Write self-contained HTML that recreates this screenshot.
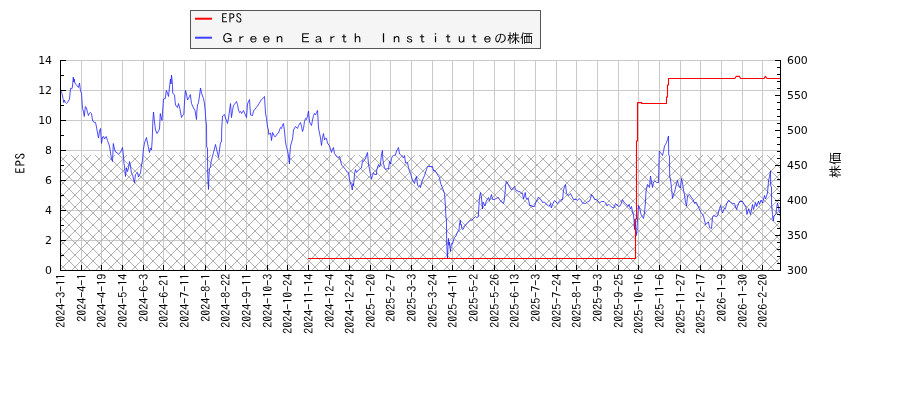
<!DOCTYPE html>
<html lang="ja"><head><meta charset="utf-8"><title>EPS chart</title>
<style>html,body{margin:0;padding:0;background:#fff}body{width:900px;height:400px;overflow:hidden}svg{display:block}.n{font-family:"DejaVu Sans","Liberation Sans",sans-serif;font-size:10.9px;fill:#000}.j{font-family:"IPAGothic","Liberation Sans","Noto Sans CJK JP",sans-serif;fill:#000}</style></head><body>
<svg width="900" height="400" viewBox="0 0 900 400">
<defs><pattern id="h" x="57" y="153" width="12" height="12" patternUnits="userSpaceOnUse"><path d="M-1,-1L13,13M13,-1L-1,13" stroke="#b0b0b0" stroke-width="1" fill="none" shape-rendering="crispEdges"/></pattern><clipPath id="c"><rect x="60" y="60" width="721" height="211"/></clipPath></defs>
<rect width="900" height="400" fill="#fff"/>
<path d="M81.5,60V270M101.5,60V270M122.5,60V270M143.5,60V270M163.5,60V270M184.5,60V270M205.5,60V270M225.5,60V270M246.5,60V270M267.5,60V270M287.5,60V270M308.5,60V270M329.5,60V270M349.5,60V270M370.5,60V270M390.5,60V270M411.5,60V270M432.5,60V270M452.5,60V270M473.5,60V270M494.5,60V270M514.5,60V270M535.5,60V270M556.5,60V270M576.5,60V270M597.5,60V270M618.5,60V270M638.5,60V270M659.5,60V270M680.5,60V270M700.5,60V270M721.5,60V270M742.5,60V270M762.5,60V270M61,60.5H780M61,90.5H780M61,120.5H780M61,150.5H780M61,180.5H780M61,210.5H780M61,240.5H780" stroke="#cacaca" stroke-width="1" fill="none" shape-rendering="crispEdges"/>
<rect x="61" y="155" width="719" height="115" fill="url(#h)"/>
<g clip-path="url(#c)">
<polyline points="61.2,91.2 62,93.5 63.2,99.5 63.8,102.5 64.2,100 65.5,102.5 66.5,103.5 67.5,102.5 69.5,99 70.5,88.5 72.2,88.3 72.8,83 73.3,77 73.8,82 74.3,79 74.8,83 76.5,85 78.5,87.5 79.5,83 80.5,91 81.5,93 82,101 82.5,108.5 83.3,111 84.3,116.5 85.3,106.5 86.5,108 87.5,112.5 88.5,115.5 89.5,113 90.5,112.5 91.5,113.5 92.5,120 93.5,122 95.5,122.5 96.5,127 97.5,133 98.5,138 99.5,131 100.5,128.5 101.5,143.5 102.5,137 103.5,136.5 104.5,139 105.5,137 106.3,136.5 107.5,140.5 109.5,146 110.5,153 111.5,158.5 112.5,161.5 113.3,143.5 114.5,149 115.5,152 117.5,153 118.5,154.5 119.5,153.5 120.5,152 121.5,150 122.5,147.5 123.5,156 124,163.5 124.7,168 125.5,176.5 126.5,168 127.5,171.5 128.5,168 129.5,161.5 130.5,166 131.5,173.5 132.5,174.5 133.5,179 134.5,182.5 135.5,174.5 136.5,173.5 137.5,172.5 138.5,177 139.5,175 140.5,173 141.5,165 142.5,160 143.3,150 144.5,143 145.5,140 146.5,137.5 147.5,143 148.5,148 149.5,152.5 150.5,148 151.5,150 152.2,140 152.8,122 153.5,112 154.5,122 155.5,130 157,133.5 158.5,131 159.5,129 160.3,113.5 161.3,118 162,120.5 162.7,110 163.5,99 165.3,98.5 166.3,90.5 167.5,93 168.5,96.5 169.5,87 170.5,79 171,84 171.5,75 172.5,84.5 172.7,93 174.5,95 175.5,105 177.5,107.5 178.5,103.5 179.5,107 180.5,112 181.5,117.5 182.5,115.5 183.8,114.5 184.5,102 185.5,90.5 186.5,94 187.5,100 189.5,96.5 190.3,94.5 191.5,103.5 193.5,108 195,110.5 196.5,119.5 196.8,112 197.5,105 198.5,102.5 199.5,96 200.5,88 201.5,93 202.5,96 203.5,98.5 204.5,104 205.3,112 205.8,120 206.5,125 206.7,147 207.5,148 207.7,174.5 208.5,189.5 209,175 209.5,168.5 210.5,167 211,162 211.5,160 213.5,152.5 215.5,144.5 216.5,149 217.5,153 218.5,157.5 219.5,150 220.5,142.5 221.5,142 221.7,129 222.5,116 224.5,114.5 225.5,118 227.5,123.5 228.5,118 229.5,111 230.5,103.5 231.5,117.5 232.5,110.5 233.5,105.5 236.5,101.5 237.5,104.5 238.5,110 239.5,112.5 240.5,111.5 241.5,113.5 243.5,110.5 244.5,113 245.5,115 246.5,117.5 247.5,104 248.5,101.5 249.5,99.5 250.5,115 252.5,115.5 253.5,111 257.5,106 261.5,99.5 263.5,98 264.5,96.5 265,105 265.5,113 266.5,118.5 267.5,127 268.5,130 268.7,134.5 270.5,133 271.5,140.5 272.5,132.5 274.5,136.5 275.5,136.5 277.5,133.5 278.5,133 279.5,130 280.5,127.5 281.5,128.5 282.5,125 283.5,123.5 284.5,131 285.5,142 286.5,147.5 287.5,150.5 288.5,156 289.5,164 289.8,155 290.5,146 292.5,139 293.5,130 295.5,126.5 297.5,128.5 298.5,125.5 300.5,122.5 301.5,126.5 302.5,131.5 303.5,128.5 304.5,121.5 305.5,118.5 306.5,119.5 307.5,116 308.5,111 309.5,122 311.5,125.5 312.5,120 313.5,115.5 314.5,113.5 315.5,115 316.5,112.5 317.5,110.5 318,119 318.5,128 319.5,133 320.5,138 321.5,145.5 322.5,137.5 323.5,133.5 324.5,140 325.5,138 326.5,138.5 327.5,143 329.5,146 330.5,149 331.5,152.5 332.5,149 333.5,147.5 334.5,153.5 336.5,156 338,157.5 339.5,156.5 340.5,160 341.5,165 343.5,167 345.5,169.5 347,172 348.5,172.5 349.5,180 350.5,183 351.5,186 352.3,190 353,183.5 353.5,186 354.5,174 355.5,169.5 356.5,172.5 358.5,170 360.5,168.5 361.5,168 362.5,160.5 363.5,161.5 364.5,159.5 365.5,159 366.5,155 367.5,152.5 368.5,164 369.5,169.5 370.5,174.5 371.5,179 372.5,175.5 373.5,172.5 374.5,174.5 376.5,174.5 376.7,170 378.5,164.5 379.5,167 380.5,164 381.5,154 382.5,150.5 382.7,158 383.5,163.5 384.5,167.5 385.5,169.5 387.5,168.5 388.5,169 389.5,161.5 390.5,164 391.5,158.5 392.5,156 393.5,155.5 395.5,155 396.5,151 398.5,147.5 399.5,154 401.5,155.5 403.5,158 404.5,155.5 405.5,163 407.5,162.5 408.5,167.5 409.5,171.5 410.5,173 411.5,177 412.5,180 414.5,183.5 415.5,179 416.5,176.5 417.5,185 418.5,186.5 419.5,185.5 420.5,187.5 421.5,183 422.5,180 424.5,175.5 426.5,169.5 427.5,166.5 432.5,166.5 433.5,171 435,170.5 436.5,173 438,175.5 439.5,177.5 440.5,183 442.5,188 444.5,193.5 445,200 445.5,208 446,218 446.5,220 446.7,244 447.5,258 448,246 448.5,238.5 449,245 449.5,242 450,248 450.5,251.5 451,246 451.5,243.5 452.5,244 453.5,240 454.5,237.5 456,236 457.5,232 459,230 459.5,224 460.3,220 460.7,225 461.5,224.5 461.8,228.5 463,229.5 464.5,226.5 466.5,224 468.5,222 470.5,220 471.5,220.5 473.5,218.5 475.5,216.5 476.5,217.5 478.3,217 478.7,210 479.3,200 479.7,196 480.5,192.5 481.5,198 482,204.5 482.5,209 483,202 484,204 485,206 486,202 487.5,199 488.5,197.5 489.5,200.5 490.5,197.5 491.5,194.5 492.5,199.5 494.5,199.5 496,198.5 498.5,197.5 499.5,199.5 501,201.5 503.5,203.5 504.3,200 504.7,196 505.3,190 505.7,184.5 506.5,181.5 507.5,183 509.5,187 511.5,190 513.5,187.5 514.5,186.5 515.5,189 516.5,191 517.5,190.5 518.5,192 520,191.5 521.5,193.5 522.5,193 523.5,199 524.5,195.5 525.3,192.5 526,198 527,199.5 528,198 529,202 530,206 531,205 532,206.5 534.5,206.5 535.5,203 536.5,201 538.5,197 540,199 541.5,200 542.5,202.5 544.5,202 546,204 548,205.5 549,206.5 550.5,203.5 551.3,208 552.5,204.5 554.5,200.5 556,202 557.5,203.5 559.5,201 561,199.5 562.5,200 563.5,190 564.5,187 565.5,184.5 566.5,193.5 568,195 569,195.5 570.5,193.5 572,196.5 573.5,199.5 576.5,199.5 577.5,200.5 579,198.5 580.5,199.5 582.5,203 585.5,203.5 587.5,202 589.5,201 590.5,198.5 591.5,194.5 593.5,197 594.5,199.5 596.5,199.5 598,201 599.5,203 601.5,201.5 604,201.5 605.5,203 607,206 608.5,204 610,205.5 611.5,207 613.5,208 614.5,206 615.5,203.5 617,205 618.5,206.5 620,206 621.5,203 622.5,199.5 624.5,203 626.5,204.5 628,206.5 629,204.5 630.5,209 631.5,206.5 632.5,212 633.5,215 634,220 634.5,229.5 635,219 635.5,225 636.3,235.5 637,230 637.5,220 638,212 638.5,205.5 640,209.5 641,214.5 642,216 643.5,218.5 644.5,213 645.5,201.5 646,191 646.5,189 647.5,184.5 648.5,186 649.5,187.5 650.5,176 651.5,182 652.5,187.5 653.5,182 655,181 656.5,182.5 658.5,182.5 658.8,170 659.3,151 660.5,152.5 662.5,155.5 663.5,151.5 664.5,146 665.5,144.5 666.5,142.5 667.5,139.5 668.5,136 668.7,155 669.5,156 669.7,176 670.5,180 671.5,187.5 672.5,198.5 673.5,194 674.5,192.5 675.5,188 676.5,183.5 677.5,180.5 678.5,185 680.5,188 681.5,178.5 682.5,183 683.5,190 684.5,195 685.5,202.5 686.5,206 687.5,196 689.5,194.5 691,197 693,199.5 694.5,203.5 696,202 697.5,205 699,208.5 701,212.5 703.5,216 705.5,224.5 707.5,223 708.5,222 709.5,227.5 711.5,228.5 712.5,217 713.5,215.5 716,216.5 717.5,216 719.5,208.5 720.5,205.5 721.5,209.5 722.5,213 724.5,208 725.5,208.5 726.5,204 728.5,200.5 730.5,202 732.5,203.5 734.5,203.5 736.5,209.5 737.5,206.5 739.5,201.5 742.5,201.5 744.5,205 746,207.5 747,214.5 748.5,209 750.5,214.5 752.5,204.5 753.5,209.5 755.5,202.5 756.5,206.5 758.5,201 759.5,204.5 761,200 762.5,203 764.5,195.5 765.5,199 767.5,193 768.5,181 769.5,176.5 770.5,171 770.7,186 771.5,187 771.6,205 772.5,214.5 773.3,221 774,216 776,214 776.5,208.5 777.5,203 778.5,207 779.5,213" fill="none" stroke="#2020ff" stroke-width="0.8" stroke-linejoin="round"/>
<path d="M308,258.5H635.5V219H636.5V141H637.5V102.6H641.7V103.45H666.5V97H667.5V85H668.5V78.5H734.8L736.2,76.4H739.5L740.6,78.5H764.1L765.4,76.4L767,78.5H780" fill="none" stroke="#ff0000" stroke-width="1.1" stroke-linejoin="round"/>
</g>
<path d="M60.5,60V271M780.5,60V271M60,270.5H781M61,270.5h5M61,255.5h3M61,240.5h5M61,225.5h3M61,210.5h5M61,195.5h3M61,180.5h5M61,165.5h3M61,150.5h5M61,135.5h3M61,120.5h5M61,105.5h3M61,90.5h5M61,75.5h3M61,60.5h5M780,270.5h-5M780,263.5h-3M780,256.5h-3M780,249.5h-3M780,242.5h-3M780,235.5h-5M780,228.5h-3M780,221.5h-3M780,214.5h-3M780,207.5h-3M780,200.5h-5M780,193.5h-3M780,186.5h-3M780,179.5h-3M780,172.5h-3M780,165.5h-5M780,158.5h-3M780,151.5h-3M780,144.5h-3M780,137.5h-3M780,130.5h-5M780,123.5h-3M780,116.5h-3M780,109.5h-3M780,102.5h-3M780,95.5h-5M780,88.5h-3M780,81.5h-3M780,74.5h-3M780,67.5h-3M780,60.5h-5M60.5,270v-5M81.5,270v-5M101.5,270v-5M122.5,270v-5M143.5,270v-5M163.5,270v-5M184.5,270v-5M205.5,270v-5M225.5,270v-5M246.5,270v-5M267.5,270v-5M287.5,270v-5M308.5,270v-5M329.5,270v-5M349.5,270v-5M370.5,270v-5M390.5,270v-5M411.5,270v-5M432.5,270v-5M452.5,270v-5M473.5,270v-5M494.5,270v-5M514.5,270v-5M535.5,270v-5M556.5,270v-5M576.5,270v-5M597.5,270v-5M618.5,270v-5M638.5,270v-5M659.5,270v-5M680.5,270v-5M700.5,270v-5M721.5,270v-5M742.5,270v-5M762.5,270v-5" stroke="#000" stroke-width="1" fill="none" shape-rendering="crispEdges"/>
<text class="n" x="52" y="274" text-anchor="end">0</text>
<text class="n" x="52" y="244" text-anchor="end">2</text>
<text class="n" x="52" y="214" text-anchor="end">4</text>
<text class="n" x="52" y="184" text-anchor="end">6</text>
<text class="n" x="52" y="154" text-anchor="end">8</text>
<text class="n" x="52" y="124" text-anchor="end">10</text>
<text class="n" x="52" y="94" text-anchor="end">12</text>
<text class="n" x="52" y="64" text-anchor="end">14</text>
<text class="n" x="787" y="274">300</text>
<text class="n" x="787" y="239">350</text>
<text class="n" x="787" y="204">400</text>
<text class="n" x="787" y="169">450</text>
<text class="n" x="787" y="134">500</text>
<text class="n" x="787" y="99">550</text>
<text class="n" x="787" y="64">600</text>
<text class="j" font-size="12" transform="translate(64.5,273.7) rotate(-90)" text-anchor="end">2024-3-11</text>
<text class="j" font-size="12" transform="translate(85.5,273.7) rotate(-90)" text-anchor="end">2024-4-1</text>
<text class="j" font-size="12" transform="translate(105.5,273.7) rotate(-90)" text-anchor="end">2024-4-19</text>
<text class="j" font-size="12" transform="translate(126.5,273.7) rotate(-90)" text-anchor="end">2024-5-14</text>
<text class="j" font-size="12" transform="translate(147.5,273.7) rotate(-90)" text-anchor="end">2024-6-3</text>
<text class="j" font-size="12" transform="translate(167.5,273.7) rotate(-90)" text-anchor="end">2024-6-21</text>
<text class="j" font-size="12" transform="translate(188.5,273.7) rotate(-90)" text-anchor="end">2024-7-11</text>
<text class="j" font-size="12" transform="translate(209.5,273.7) rotate(-90)" text-anchor="end">2024-8-1</text>
<text class="j" font-size="12" transform="translate(229.5,273.7) rotate(-90)" text-anchor="end">2024-8-22</text>
<text class="j" font-size="12" transform="translate(250.5,273.7) rotate(-90)" text-anchor="end">2024-9-11</text>
<text class="j" font-size="12" transform="translate(271.5,273.7) rotate(-90)" text-anchor="end">2024-10-3</text>
<text class="j" font-size="12" transform="translate(291.5,273.7) rotate(-90)" text-anchor="end">2024-10-24</text>
<text class="j" font-size="12" transform="translate(312.5,273.7) rotate(-90)" text-anchor="end">2024-11-14</text>
<text class="j" font-size="12" transform="translate(333.5,273.7) rotate(-90)" text-anchor="end">2024-12-4</text>
<text class="j" font-size="12" transform="translate(353.5,273.7) rotate(-90)" text-anchor="end">2024-12-24</text>
<text class="j" font-size="12" transform="translate(374.5,273.7) rotate(-90)" text-anchor="end">2025-1-20</text>
<text class="j" font-size="12" transform="translate(394.5,273.7) rotate(-90)" text-anchor="end">2025-2-7</text>
<text class="j" font-size="12" transform="translate(415.5,273.7) rotate(-90)" text-anchor="end">2025-3-3</text>
<text class="j" font-size="12" transform="translate(436.5,273.7) rotate(-90)" text-anchor="end">2025-3-24</text>
<text class="j" font-size="12" transform="translate(456.5,273.7) rotate(-90)" text-anchor="end">2025-4-11</text>
<text class="j" font-size="12" transform="translate(477.5,273.7) rotate(-90)" text-anchor="end">2025-5-2</text>
<text class="j" font-size="12" transform="translate(498.5,273.7) rotate(-90)" text-anchor="end">2025-5-26</text>
<text class="j" font-size="12" transform="translate(518.5,273.7) rotate(-90)" text-anchor="end">2025-6-13</text>
<text class="j" font-size="12" transform="translate(539.5,273.7) rotate(-90)" text-anchor="end">2025-7-3</text>
<text class="j" font-size="12" transform="translate(560.5,273.7) rotate(-90)" text-anchor="end">2025-7-24</text>
<text class="j" font-size="12" transform="translate(580.5,273.7) rotate(-90)" text-anchor="end">2025-8-14</text>
<text class="j" font-size="12" transform="translate(601.5,273.7) rotate(-90)" text-anchor="end">2025-9-3</text>
<text class="j" font-size="12" transform="translate(622.5,273.7) rotate(-90)" text-anchor="end">2025-9-25</text>
<text class="j" font-size="12" transform="translate(642.5,273.7) rotate(-90)" text-anchor="end">2025-10-16</text>
<text class="j" font-size="12" transform="translate(663.5,273.7) rotate(-90)" text-anchor="end">2025-11-6</text>
<text class="j" font-size="12" transform="translate(684.5,273.7) rotate(-90)" text-anchor="end">2025-11-27</text>
<text class="j" font-size="12" transform="translate(704.5,273.7) rotate(-90)" text-anchor="end">2025-12-17</text>
<text class="j" font-size="12" transform="translate(725.5,273.7) rotate(-90)" text-anchor="end">2026-1-9</text>
<text class="j" font-size="12" transform="translate(746.5,273.7) rotate(-90)" text-anchor="end">2026-1-30</text>
<text class="j" font-size="12" transform="translate(766.5,273.7) rotate(-90)" text-anchor="end">2026-2-20</text>
<text class="j" font-size="13" transform="translate(24.6,163) rotate(-90)" text-anchor="middle" letter-spacing="0.6">EPS</text>
<text class="j" font-size="13" transform="translate(840,165) rotate(-90)" text-anchor="middle">株価</text>
<rect x="190.5" y="10.5" width="350" height="37.5" fill="#f5f5f5" stroke="#555" stroke-width="1" shape-rendering="crispEdges"/>
<path d="M195,18.7H212" stroke="#ff0000" stroke-width="2"/>
<path d="M195,37.7H212" stroke="#4040ff" stroke-width="2"/>
<text class="j" font-size="13" x="221.2" y="22.5" letter-spacing="0.7">EPS</text>
<text class="j" font-size="13" x="220.9" y="42.5">Ｇｒｅｅｎ　Ｅａｒｔｈ　Ｉｎｓｔｉｔｕｔｅの株価</text>
</svg></body></html>
